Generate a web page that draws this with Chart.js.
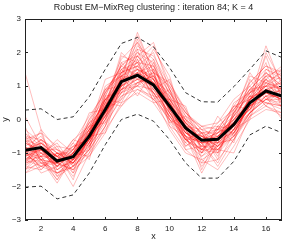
<!DOCTYPE html>
<html>
<head>
<meta charset="utf-8">
<script src="https://cdn.jsdelivr.net/npm/chart.js@4"></script>
<style>
  html, body { margin: 0; padding: 0; background: #fff; }
  #wrap { width: 284px; height: 242px; }
</style>
</head>
<body>
<div id="wrap"><canvas id="chart"></canvas></div>
<script>
// x positions (time index)
const xValues = [1, 2, 3, 4, 5, 6, 7, 8, 9, 10, 11, 12, 13, 14, 15, 16, 17];
const xTicks = [2, 4, 6, 8, 10, 12, 14, 16];
const yTicks = [-3, -2, -1, 0, 1, 2, 3];

// cluster mean and the two dashed bounds
const meanCurve = [-0.92, -0.84, -1.24, -1.11, -0.5, 0.3, 1.13, 1.32, 1.03, 0.4, -0.25, -0.62, -0.59, -0.15, 0.5, 0.85, 0.7];
const upperBound = [0.28, 0.32, 0.0, 0.08, 0.68, 1.5, 2.27, 2.45, 2.17, 1.55, 0.8, 0.53, 0.52, 0.98, 1.5, 2.05, 1.85];
const lowerBound = [-2.02, -1.99, -2.37, -2.25, -1.6, -0.75, 0.0, 0.16, -0.05, -0.6, -1.3, -1.75, -1.75, -1.25, -0.46, -0.2, -0.4];

// member curves (red)
const curves = [
    [-0.7, -0.9, -1.1, -1.3, -0.6, 0.2, 1.0, 1.5, 1.2, 0.3, -0.4, -0.7, -0.5, -0.1, 0.6, 1.0, 0.8],
    [-1.2, -1.0, -1.4, -1.0, -0.3, 0.6, 1.4, 1.8, 1.0, 0.5, -0.2, -0.8, -0.9, -0.3, 0.4, 0.7, 0.9],
    [-0.5, -0.6, -1.0, -1.2, -0.8, 0.0, 0.8, 1.1, 1.3, 0.7, 0.0, -0.4, -0.6, 0.1, 0.8, 1.2, 0.5],
    [1.4, -0.3, -0.9, -1.1, -0.4, 0.4, 1.2, 2.6, 1.4, 0.2, -0.6, -1.0, -0.4, -0.2, 0.3, 0.9, 1.1],
    [-1.5, -1.3, -1.6, -1.4, -0.9, -0.2, 0.7, 1.0, 0.6, 0.1, -0.5, -0.9, -1.0, -0.5, 0.2, 0.6, 0.4],
    [-0.9, -0.7, -1.3, -0.9, -0.2, 0.8, 1.6, 2.0, 1.7, 0.9, 0.2, -0.3, -0.2, 0.2, 0.9, 1.4, 1.0],
    [-1.0, -1.1, -1.8, -1.2, -0.6, 0.3, 1.1, 1.4, 0.9, 0.2, -0.3, -0.5, -0.8, -0.4, 0.5, 0.8, 0.6],
    [-0.6, -0.4, -0.8, -0.9, 0.0, 0.9, 1.3, 1.6, 1.1, 0.6, -0.1, -0.6, -0.4, 0.0, 0.4, 1.0, 1.3],
    [-1.3, -1.2, -1.0, -1.3, -0.7, 0.1, 0.9, 1.2, 0.8, -0.1, -0.7, -1.1, -0.8, -0.2, 0.7, 0.5, 0.3],
    [-0.8, -0.5, -1.2, -2.0, -1.0, 0.2, 1.0, 1.3, 1.5, 0.8, 0.1, -0.2, -0.3, -0.1, 0.3, 1.1, 0.9],
    [-1.1, -0.9, -1.5, -1.1, -0.5, 0.5, 1.5, 1.9, 1.3, 0.4, -0.4, -0.7, -0.6, -0.2, 0.6, 0.9, 0.7],
    [-0.4, -0.8, -1.1, -0.8, -0.3, 0.3, 0.9, 1.0, 1.4, 1.0, 0.3, -0.5, -0.7, -0.3, 0.2, 0.6, 0.8],
    [-1.6, -1.4, -1.3, -1.5, -1.1, -0.4, 0.5, 0.8, 0.5, -0.2, -0.9, -1.3, -1.2, -0.6, 0.1, 0.4, 0.2],
    [-0.9, -0.6, -1.0, -1.0, -0.4, 0.7, 1.8, 2.3, 1.6, 0.6, -0.1, -0.6, -0.4, 0.3, 1.0, 1.5, 1.2],
    [-1.0, -1.2, -1.3, -0.9, -0.1, 0.4, 1.2, 1.5, 0.7, 0.0, -0.6, -0.9, -0.5, 0.0, 0.6, 1.2, 0.9],
    [-0.7, -1.0, -1.4, -1.3, -0.8, -0.1, 0.6, 1.1, 1.2, 0.5, -0.2, -0.4, -0.9, -0.3, 0.4, 0.8, 0.6],
    [-1.2, -0.8, -1.1, -1.2, -0.5, 0.0, 1.3, 1.7, 2.2, 1.1, 0.2, -0.3, -0.5, 0.1, 0.7, 1.3, 1.5],
    [-0.8, -1.1, -1.7, -1.4, -0.6, 0.2, 0.9, 1.2, 1.0, 0.3, -0.5, -1.6, -0.7, -0.6, 0.2, 0.7, 0.4],
    [-0.3, -0.7, -1.1, -0.7, 0.1, 0.8, 1.4, 1.6, 1.2, 0.4, -0.3, -0.5, -0.3, 0.1, 0.8, 1.0, 1.1],
    [-1.4, -1.0, -1.2, -1.2, -0.7, 0.3, 1.0, 1.4, 0.8, 0.2, -0.4, -0.8, -0.8, -0.3, 0.5, 0.8, 0.5],
    [-1.0, -0.9, -1.4, -1.0, -0.4, 0.4, 1.2, 1.3, 1.1, 0.7, -0.1, -0.6, -0.5, -0.1, 0.3, 0.7, 0.7],
    [-0.6, -0.8, -1.2, -1.1, -0.6, 0.5, 1.7, 1.9, 1.4, 0.5, -0.2, -0.6, -0.7, -0.2, 0.6, 1.0, 0.9],
    [-1.1, -1.3, -1.5, -1.2, -0.3, 0.1, 0.7, 0.9, 0.6, 0.0, -0.5, -0.7, -1.3, -0.4, 0.4, 0.6, 0.6],
    [-0.9, -0.7, -1.0, -1.3, -0.5, 0.6, 1.1, 1.5, 1.3, 0.6, 0.0, -0.4, -0.4, -0.1, 0.6, 1.2, 0.8],
    [-1.3, -1.1, -1.2, -1.1, -0.9, -0.2, 1.0, 1.3, 0.8, 0.1, -0.6, -1.0, -0.7, 0.2, 1.3, 1.1, 0.6],
    [-0.5, -0.9, -1.3, -1.0, -0.2, 0.2, 0.8, 1.3, 1.8, 0.9, 0.0, -0.7, -0.6, -0.2, 0.5, 0.9, 1.0],
    [-1.0, -0.6, -0.9, -1.2, -0.6, 0.1, 1.4, 1.7, 1.0, 0.3, -0.3, -0.6, -0.6, -0.4, 0.2, 0.6, 0.5],
    [-0.8, -1.2, -1.3, -1.1, -0.3, 0.6, 1.2, 2.0, 1.5, 0.6, -0.2, -0.8, -0.4, 0.0, 0.9, 1.4, 0.9],
    [-1.2, -0.9, -1.1, -1.5, -0.7, 0.0, 0.9, 1.1, 0.8, 0.1, -0.4, -0.5, -0.8, -0.5, 0.2, 0.7, 0.7],
    [-0.7, -0.9, -1.4, -1.0, -0.4, 0.4, 1.1, 1.4, 1.1, 0.5, -0.3, -0.7, -0.5, -0.1, 0.6, 2.2, 1.0],
    [-1.1, -0.8, -1.2, -1.3, -0.6, 0.5, 1.3, 1.5, 1.2, 0.4, -0.1, -0.5, -0.6, 0.0, 0.5, 0.9, 0.8],
    [-0.9, -1.0, -1.3, -1.0, -0.5, 0.2, 1.0, 1.2, 1.1, 0.3, -0.4, -0.7, -0.7, -0.3, 0.4, 0.8, 0.6],
    [-1.4, -1.5, -1.0, -1.1, -0.4, 0.7, 1.6, 2.1, 1.9, 1.0, 0.1, -0.4, -0.3, 0.4, 1.1, 1.6, 1.4],
    [-0.6, -1.2, -1.6, -1.4, -1.0, -0.3, 0.4, 0.9, 0.7, -0.3, -1.0, -1.2, -1.5, -0.8, 0.0, 0.3, 0.2],
    [-1.0, -0.7, -1.1, -0.9, -0.1, 0.9, 1.5, 1.7, 1.6, 0.8, 0.2, -0.2, -0.1, 0.3, 0.8, 1.3, 1.2],
    [-1.2, -1.4, -1.6, -1.3, -0.6, 0.1, 0.8, 1.0, 0.9, 0.2, -0.6, -0.9, -0.9, -0.5, 0.1, 0.5, 0.4],
    [-1.5, -1.1, -0.8, -1.6, -0.9, 0.6, 1.0, 2.4, 1.2, 0.0, -0.8, -0.4, -1.1, 0.2, 0.9, 0.4, 1.0],
    [-0.2, -1.3, -1.2, -0.6, -0.8, 0.0, 1.7, 1.2, 2.1, 1.3, -0.3, -1.0, -0.2, -0.7, 0.8, 1.7, 0.3],
    [-1.1, -0.3, -1.7, -1.0, 0.2, 0.3, 0.6, 1.8, 0.5, 0.6, 0.4, -0.9, -0.6, 0.4, 0.3, 1.1, 1.4],
    [-0.8, -1.5, -1.0, -1.8, -0.4, 1.0, 1.3, 0.7, 1.5, -0.2, -0.5, -1.4, -0.8, -0.3, 1.2, 0.6, 0.9],
    [-1.3, -0.6, -1.4, -0.7, -1.2, 0.4, 2.0, 1.5, 0.9, 1.2, -0.2, -0.3, -1.0, 0.0, 0.5, 1.9, 0.6],
    [-0.4, -1.0, -0.7, -1.4, -0.5, -0.4, 1.1, 2.2, 1.8, 0.3, -0.9, -0.8, 0.1, -0.5, 0.7, 0.8, 1.2],
    [-1.6, -1.2, -1.9, -1.1, -0.2, 0.5, 0.4, 1.1, 1.3, 0.4, 0.0, -1.2, -0.9, -1.0, 0.1, 1.3, 0.8],
    [0.1, -0.8, -1.3, -1.5, -0.7, 0.8, 1.6, 1.3, 0.6, 0.9, -0.4, -0.6, -0.1, 0.6, 1.0, 0.4, 0.1],
    [-1.0, -1.4, -1.2, -0.8, -0.6, 0.1, 1.3, 2.5, 1.4, 0.0, -0.3, -1.1, -0.6, -0.2, 0.2, 1.5, 1.3],
    [-0.7, -0.4, -1.5, -1.2, 0.0, 0.6, 0.9, 1.6, 2.0, 0.7, -0.6, -0.4, -1.2, 0.3, 0.9, 1.0, 0.5],
    [-1.2, -1.1, -0.6, -1.0, -1.1, -0.2, 1.2, 1.4, 1.1, -0.1, 0.1, -0.9, -0.3, -0.4, 0.4, 2.0, 1.1],
    [-0.9, -1.6, -1.4, -0.9, -0.3, 0.3, 1.9, 1.7, 0.8, 0.5, -0.8, -0.5, -0.8, 0.1, 1.4, 0.7, 0.0],
    [-1.4, -0.7, -1.1, -1.7, -0.8, 0.9, 1.0, 1.9, 1.2, 0.8, -0.1, -1.5, -0.5, -0.2, 0.3, 1.2, 1.6],
    [-0.5, -1.2, -1.8, -1.0, -0.1, 0.2, 1.5, 1.0, 1.7, 0.2, -0.5, -0.7, -1.4, -0.6, 0.6, 0.9, 0.7],
    [-1.1, -0.9, -0.9, -1.4, -0.9, 0.7, 0.8, 2.1, 0.7, 0.6, -0.7, -0.2, -0.7, 0.5, 0.8, 1.1, 0.9],
    [-0.8, -1.3, -1.3, -0.6, -0.2, -0.1, 1.3, 1.2, 1.4, 1.1, 0.3, -1.0, -0.2, -0.3, 0.0, 1.4, 1.0],
    [-1.3, -0.8, -1.6, -1.2, -0.6, 0.4, 1.4, 2.3, 1.0, 0.1, -0.6, -0.6, -1.0, 0.2, 0.7, 0.5, 0.4],
    [-0.6, -1.1, -1.1, -1.6, -0.4, 0.6, 0.5, 1.4, 1.6, 0.5, -0.3, -1.3, -0.6, -0.1, 1.1, 1.6, 1.3],
    [-1.5, -0.9, -1.3, -0.8, -0.7, 0.2, 1.1, 1.9, 2.3, 0.9, -0.2, -0.6, -0.9, -0.4, 0.4, 0.8, 0.6],
    [-1.0, -1.4, -1.0, -1.3, -0.3, 1.2, 1.4, 1.6, 0.9, 0.4, -0.5, -0.9, -0.3, 0.4, 0.6, 1.0, 1.5]
];

const FONT = '"Liberation Sans", Arial, sans-serif';
const TITLE = 'Robust EM\u2212MixReg clustering : iteration 84; K = 4';
const minus = v => String(v).replace('-', '\u2212');

const datasets = [
    { data: meanCurve, borderColor: '#000', borderWidth: 3, order: 0 },
    { data: upperBound, borderColor: '#333', borderWidth: 1, borderDash: [4, 3], order: 1 },
    { data: lowerBound, borderColor: '#333', borderWidth: 1, borderDash: [4, 3], order: 1 }
];
curves.forEach(c => {
    datasets.push({ data: c, borderColor: 'rgba(255,0,0,0.33)', borderWidth: 0.8, order: 2 });
});
datasets.forEach(d => {
    d.data = d.data.map((y, i) => ({ x: xValues[i], y: y }));
    d.pointRadius = 0;
    d.tension = 0;
    d.fill = false;
});

// MATLAB-like box with inward ticks
const boxPlugin = {
    id: 'box',
    afterDraw(chart) {
        const ctx = chart.ctx;
        const a = chart.chartArea;
        const xs = chart.scales.x, ys = chart.scales.y;
        ctx.save();
        ctx.strokeStyle = '#222';
        ctx.lineWidth = 1;
        ctx.strokeRect(Math.round(a.left) + 0.5, Math.round(a.top) + 0.5,
            Math.round(a.right - a.left) - 1, Math.round(a.bottom - a.top) - 1);
        ctx.beginPath();
        xTicks.forEach(t => {
            const px = Math.round(xs.getPixelForValue(t)) + 0.5;
            ctx.moveTo(px, a.bottom); ctx.lineTo(px, a.bottom - 3);
            ctx.moveTo(px, a.top); ctx.lineTo(px, a.top + 3);
        });
        yTicks.forEach(t => {
            const py = Math.round(ys.getPixelForValue(t)) + 0.5;
            ctx.moveTo(a.left, py); ctx.lineTo(a.left + 3, py);
            ctx.moveTo(a.right, py); ctx.lineTo(a.right - 3, py);
        });
        ctx.stroke();
        ctx.restore();
    }
};

new Chart(document.getElementById('chart'), {
    type: 'line',
    data: { datasets: datasets },
    options: {
        responsive: true,
        maintainAspectRatio: false,
        animation: false,
        events: [],
        layout: { padding: { left: 0, right: 2, top: 0, bottom: 0 } },
        plugins: {
            legend: { display: false },
            tooltip: { enabled: false }
        },
        scales: {
            x: {
                type: 'linear',
                min: 1, max: 17,
                afterFit: s => { s.height = 22; },
                afterBuildTicks: s => { s.ticks = xTicks.map(v => ({ value: v })); },
                grid: { display: false, drawTicks: false },
                border: { display: false },
                ticks: { color: '#222', font: { family: FONT, size: 8 }, padding: 4, maxRotation: 0 },
                title: { display: true, text: 'x', color: '#222', font: { family: FONT, size: 9 }, padding: 0 }
            },
            // top axis only carries the title so it centres over the plot area
            top: {
                type: 'linear',
                position: 'top',
                min: 1, max: 17,
                afterFit: s => { s.height = 19; },
                grid: { display: false, drawTicks: false },
                border: { display: false },
                ticks: { display: false },
                title: { display: true, text: TITLE, color: '#222', font: { family: FONT, size: 9 }, padding: { top: 2, bottom: 0 } }
            },
            y: {
                min: -3, max: 3,
                afterFit: s => { s.width = 25; },
                afterBuildTicks: s => { s.ticks = yTicks.map(v => ({ value: v })); },
                grid: { display: false, drawTicks: false },
                border: { display: false },
                ticks: { color: '#222', font: { family: FONT, size: 8 }, padding: 4, callback: v => minus(v) },
                title: { display: true, text: 'y', color: '#222', font: { family: FONT, size: 9 }, padding: 0 }
            }
        }
    },
    plugins: [boxPlugin]
});
</script>
</body>
</html>
